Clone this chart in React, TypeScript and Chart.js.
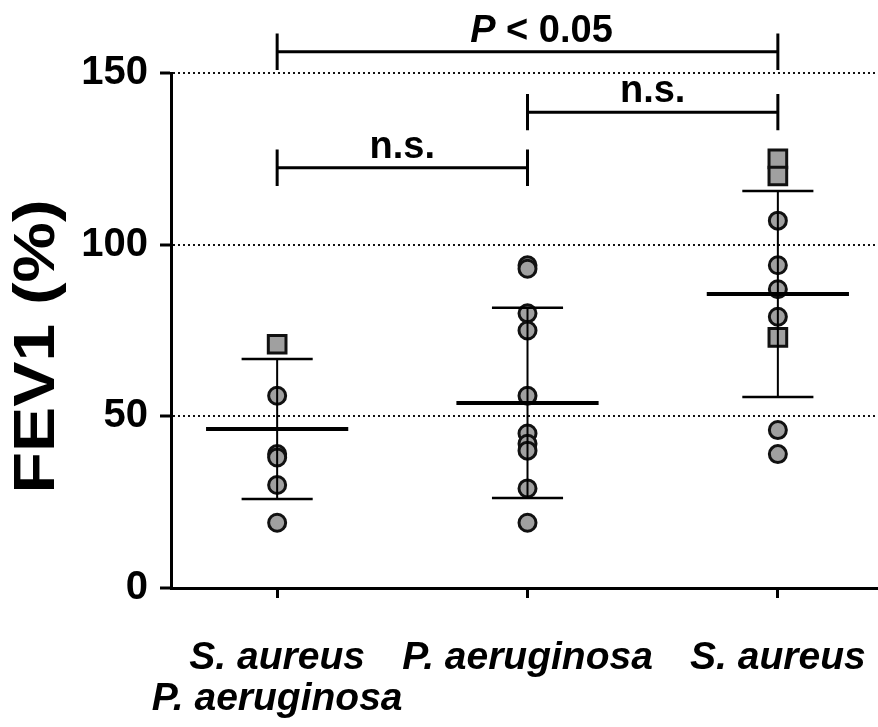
import React, { useEffect, useRef } from 'react';
import { Chart, registerables } from 'chart.js';

Chart.register(...registerables);

// ---- data ----
const categories: string[][] = [['S. aureus', 'P. aeruginosa'], ['P. aeruginosa'], ['S. aureus']];
const yTickValues = [0, 50, 100, 150];
const circleValues: number[][] = [
  [56, 39, 38, 30, 19],
  [94, 93, 80, 75, 56, 45, 42, 40, 29, 19],
  [107, 94, 87, 79, 46, 39],
];
const squareValues: number[][] = [[71], [], [125, 120, 73]];
const means = [46.3, 53.9, 85.6];
const sds = [20.4, 27.7, 30.0];
const bracketFrom = [0, 1, 0];
const bracketTo = [2, 2, 1];
const bracketLevels = [156.2, 138.6, 122.4];
const bracketLabels = ['P < 0.05', 'n.s.', 'n.s.'];
const yTitle = 'FEV1 (%)';

// ---- style ----
const FONT = '"Liberation Sans", Arial, Helvetica, sans-serif';
const MEAN_HALF = 0.284;
const CAP_HALF = 0.142;
const BRACKET_TICK = 5.3;
const BRACKET_LABEL_DX = [14, 0, 0];

type P = { x: number; y: number | null };

function buildMeanLines(): P[] {
  const out: P[] = [];
  means.forEach((m, i) => {
    out.push({ x: i - MEAN_HALF, y: m }, { x: i + MEAN_HALF, y: m }, { x: i + 0.5, y: null });
  });
  return out;
}
function buildSdLines(): P[] {
  const out: P[] = [];
  means.forEach((m, i) => {
    out.push({ x: i, y: m - sds[i] }, { x: i, y: m + sds[i] }, { x: i + 0.5, y: null });
  });
  return out;
}
function buildCaps(): P[] {
  const out: P[] = [];
  means.forEach((m, i) => {
    [m + sds[i], m - sds[i]].forEach((v) => {
      out.push({ x: i - CAP_HALF, y: v }, { x: i + CAP_HALF, y: v }, { x: i + 0.5, y: null });
    });
  });
  return out;
}
function buildBrackets(): P[] {
  const out: P[] = [];
  bracketLevels.forEach((L, i) => {
    const a = bracketFrom[i];
    const b = bracketTo[i];
    out.push({ x: a, y: L + BRACKET_TICK }, { x: a, y: L - BRACKET_TICK }, { x: a, y: null });
    out.push({ x: a, y: L }, { x: b, y: L }, { x: b, y: null });
    out.push({ x: b, y: L + BRACKET_TICK }, { x: b, y: L - BRACKET_TICK }, { x: b, y: null });
  });
  return out;
}
function buildPoints(vals: number[][]): P[] {
  const out: P[] = [];
  vals.forEach((arr, i) => arr.forEach((v) => out.push({ x: i, y: v })));
  return out;
}

const annotationPlugin = {
  id: 'annotations',
  afterDraw(chart: any) {
    const { ctx, chartArea, scales } = chart;
    const xs = scales.x;
    const ys = scales.y;
    ctx.save();
    // y title
    ctx.fillStyle = '#000';
    ctx.font = `bold 58px ${FONT}`;
    ctx.textAlign = 'center';
    ctx.textBaseline = 'middle';
    ctx.translate(38, (chartArea.top + chartArea.bottom) / 2 + 16);
    ctx.rotate(-Math.PI / 2);
    ctx.scale(1.17, 1);
    ctx.fillText(yTitle, 0, 0);
    ctx.restore();

    ctx.save();
    ctx.fillStyle = '#000';
    ctx.textBaseline = 'alphabetic';
    ctx.textAlign = 'left';
    bracketLabels.forEach((label, i) => {
      const cx =
        (xs.getPixelForValue(bracketFrom[i]) + xs.getPixelForValue(bracketTo[i])) / 2 + BRACKET_LABEL_DX[i];
      const y = ys.getPixelForValue(bracketLevels[i]) - 10;
      if (label.startsWith('P ')) {
        const first = 'P';
        const rest = label.slice(1);
        ctx.font = `italic bold 38px ${FONT}`;
        const w1 = ctx.measureText(first).width;
        ctx.font = `bold 38px ${FONT}`;
        const w2 = ctx.measureText(rest).width;
        const x0 = cx - (w1 + w2) / 2;
        ctx.font = `italic bold 38px ${FONT}`;
        ctx.fillText(first, x0, y);
        ctx.font = `bold 38px ${FONT}`;
        ctx.fillText(rest, x0 + w1, y);
      } else {
        ctx.font = `bold 38px ${FONT}`;
        const w = ctx.measureText(label).width;
        ctx.fillText(label, cx - w / 2, y);
      }
    });
    ctx.restore();
  },
};

export default function App() {
  const ref = useRef<HTMLCanvasElement | null>(null);
  useEffect(() => {
    document.body.style.margin = '0';
    const canvas = ref.current;
    if (!canvas) return;
    const lineBase = {
      type: 'scatter' as const,
      showLine: true,
      pointRadius: 0,
      pointHoverRadius: 0,
      borderColor: '#000',
      backgroundColor: '#000',
      spanGaps: false,
      clip: false as any,
      order: 0,
    };
    const chart = new Chart(canvas, {
      type: 'scatter',
      data: {
        datasets: [
          { ...lineBase, label: 'mean', data: buildMeanLines(), borderWidth: 4 },
          { ...lineBase, label: 'sd', data: buildSdLines(), borderWidth: 2 },
          { ...lineBase, label: 'caps', data: buildCaps(), borderWidth: 2.5 },
          { ...lineBase, label: 'brackets', data: buildBrackets(), borderWidth: 3, borderCapStyle: 'butt' },
          {
            type: 'scatter',
            label: 'squares',
            data: buildPoints(squareValues),
            pointStyle: 'rect',
            pointRadius: 12.5,
            pointBorderWidth: 3,
            pointBackgroundColor: '#a0a0a0',
            pointBorderColor: '#111',
            clip: false as any,
            order: 1,
          },
          {
            type: 'scatter',
            label: 'circles',
            data: buildPoints(circleValues),
            pointStyle: 'circle',
            pointRadius: 8.5,
            pointBorderWidth: 3,
            pointBackgroundColor: '#a0a0a0',
            pointBorderColor: '#111',
            clip: false as any,
            order: 1,
          },
        ] as any,
      },
      options: {
        animation: false,
        responsive: false,
        events: [],
        layout: { autoPadding: false, padding: { top: 73, left: 0, right: 0, bottom: 0 } },
        plugins: { legend: { display: false }, tooltip: { enabled: false } },
        scales: {
          x: {
            type: 'linear',
            min: -0.424,
            max: 2.4,
            afterBuildTicks: (s: any) => {
              s.ticks = categories.map((_, i) => ({ value: i }));
            },
            afterFit: (s: any) => {
              s.height = 139;
              s.paddingLeft = 0;
              s.paddingRight = 0;
            },
            ticks: {
              autoSkip: false,
              maxRotation: 0,
              minRotation: 0,
              padding: 40,
              color: '#000',
              font: { family: FONT, size: 39, weight: 'bold', style: 'italic', lineHeight: 41 / 39 },
              callback: (v: any) => categories[v as number],
            },
            grid: {
              drawOnChartArea: false,
              drawTicks: true,
              tickLength: 10,
              tickWidth: 3,
              tickColor: '#000',
              color: '#000',
            },
            border: { display: true, color: '#000', width: 3 },
          },
          y: {
            type: 'linear',
            min: 0,
            max: 150,
            afterBuildTicks: (s: any) => {
              s.ticks = yTickValues.map((v) => ({ value: v }));
            },
            afterFit: (s: any) => {
              s.width = 171;
              s.paddingTop = 0;
              s.paddingBottom = 0;
            },
            ticks: {
              padding: 12,
              color: '#000',
              font: { family: FONT, size: 40, weight: 'bold' },
            },
            grid: {
              drawOnChartArea: true,
              drawTicks: true,
              tickLength: 11,
              tickWidth: 3,
              tickColor: '#000',
              lineWidth: 2,
              color: (c: any) => (c.tick && c.tick.value === 0 ? 'rgba(0,0,0,0)' : '#111'),
            },
            border: { display: true, color: '#000', width: 3, dash: [2, 3] },
          },
        },
      } as any,
      plugins: [annotationPlugin],
    });
    return () => chart.destroy();
  }, []);
  return (
    <div style={{ width: 878, height: 727 }}>
      <canvas ref={ref} width={878} height={727} style={{ display: 'block' }} />
    </div>
  );
}
